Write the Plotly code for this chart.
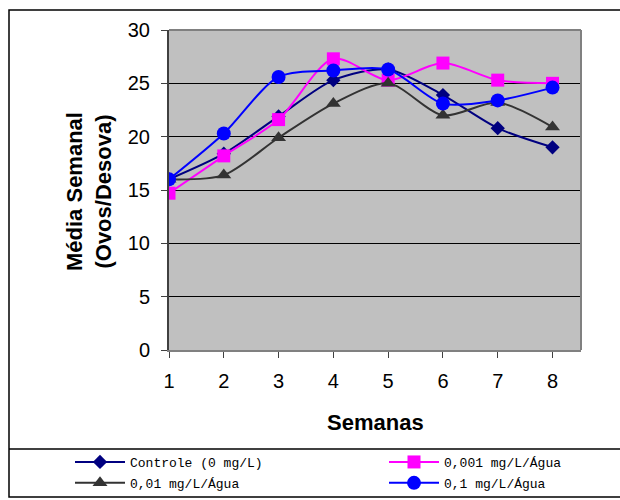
import plotly.graph_objects as go

semanas = [1, 2, 3, 4, 5, 6, 7, 8]
controle = [16.0, 18.4, 21.9, 25.3, 26.3, 23.9, 20.8, 19.0]
c0001 = [14.7, 18.2, 21.6, 27.3, 25.3, 26.9, 25.3, 25.0]
c001 = [16.0, 16.4, 19.9, 23.1, 25.0, 22.0, 23.2, 20.9]
c01 = [16.0, 20.3, 25.6, 26.2, 26.3, 23.1, 23.4, 24.6]

names = ["Controle (0 mg/L)", "0,001 mg/L/Água", "0,01 mg/L/Água", "0,1 mg/L/Água"]
series = [controle, c0001, c001, c01]
colors = ["#000080", "#FF00FF", "#333333", "#0000FF"]
symbols = ["diamond", "square", "triangle-up", "circle"]
msizes = [11, 13, 13, 14]
legends = ["legend", "legend2", "legend", "legend2"]

# plot area pixel geometry
W, H = 620, 500
L, R, T, B = 169, 581, 30, 350
pw, ph = R - L, B - T

def px(x):
    return (x - L) / pw

def py(y):
    return (B - y) / ph

fig = go.Figure()
for i in range(4):
    fig.add_trace(go.Scatter(
        x=semanas, y=series[i], name=names[i],
        mode="lines+markers",
        line=dict(color=colors[i], width=2, shape="spline", smoothing=0.8),
        marker=dict(symbol=symbols[i], size=msizes[i], color=colors[i]),
        legend=legends[i], legendgroup=f"g{i}",
    ))

legfont = dict(family="Liberation Mono", size=13, color="#000000")
fig.update_layout(
    width=W, height=H,
    margin=dict(l=L, r=W - R, t=T, b=H - B, autoexpand=False),
    paper_bgcolor="white", plot_bgcolor="#C0C0C0",
    font=dict(family="Liberation Sans", color="#000000"),
    legend=dict(x=px(70), y=py(447), xanchor="left", yanchor="top",
                font=legfont, bgcolor="rgba(0,0,0,0)", itemwidth=50,
                tracegroupgap=1, orientation="v"),
    legend2=dict(x=px(384), y=py(447), xanchor="left", yanchor="top",
                 font=legfont, bgcolor="rgba(0,0,0,0)", itemwidth=50,
                 tracegroupgap=1, orientation="v"),
    xaxis=dict(range=[1, 8.52], tickmode="array", tickvals=semanas,
               ticktext=[str(s) for s in semanas],
               ticks="outside", ticklen=6, tickcolor="#404040",
               showgrid=False, zeroline=False, showline=True,
               linecolor="#808080", linewidth=2,
               tickfont=dict(size=20), ticklabelstandoff=6),
    yaxis=dict(range=[0, 30], tickvals=[0, 5, 10, 15, 20, 25, 30],
               ticks="outside", ticklen=6, tickcolor="#404040",
               showgrid=True, gridcolor="#000000", gridwidth=1,
               zeroline=False, showline=True, linecolor="#404040", linewidth=2,
               tickfont=dict(size=20), ticklabelstandoff=7),
    showlegend=True,
)

# right / top border of plot area
fig.add_shape(type="line", xref="paper", yref="paper", x0=0, x1=1, y0=1, y1=1,
              line=dict(color="#808080", width=2))
fig.add_shape(type="line", xref="paper", yref="paper", x0=1, x1=1, y0=0, y1=1,
              line=dict(color="#808080", width=2))
# outer chart border and legend separator
fig.add_shape(type="rect", xref="paper", yref="paper",
              x0=px(9), x1=px(640), y0=py(497), y1=py(10),
              line=dict(color="#000000", width=1.5), layer="below")
fig.add_shape(type="line", xref="paper", yref="paper",
              x0=px(9), x1=px(640), y0=py(449), y1=py(449),
              line=dict(color="#000000", width=1.5))

fig.add_annotation(text="<b>Média Semanal<br>(Ovos/Desova)</b>", xref="paper", yref="paper",
                   x=px(89), y=py(192), xanchor="center", yanchor="middle",
                   textangle=-90, showarrow=False,
                   font=dict(size=22, family="Liberation Sans"))
fig.add_annotation(text="<b>Semanas</b>", xref="paper", yref="paper",
                   x=px(375), y=py(422), xanchor="center", yanchor="middle",
                   showarrow=False,
                   font=dict(size=22, family="Liberation Sans"))

fig.write_html("out.html")
